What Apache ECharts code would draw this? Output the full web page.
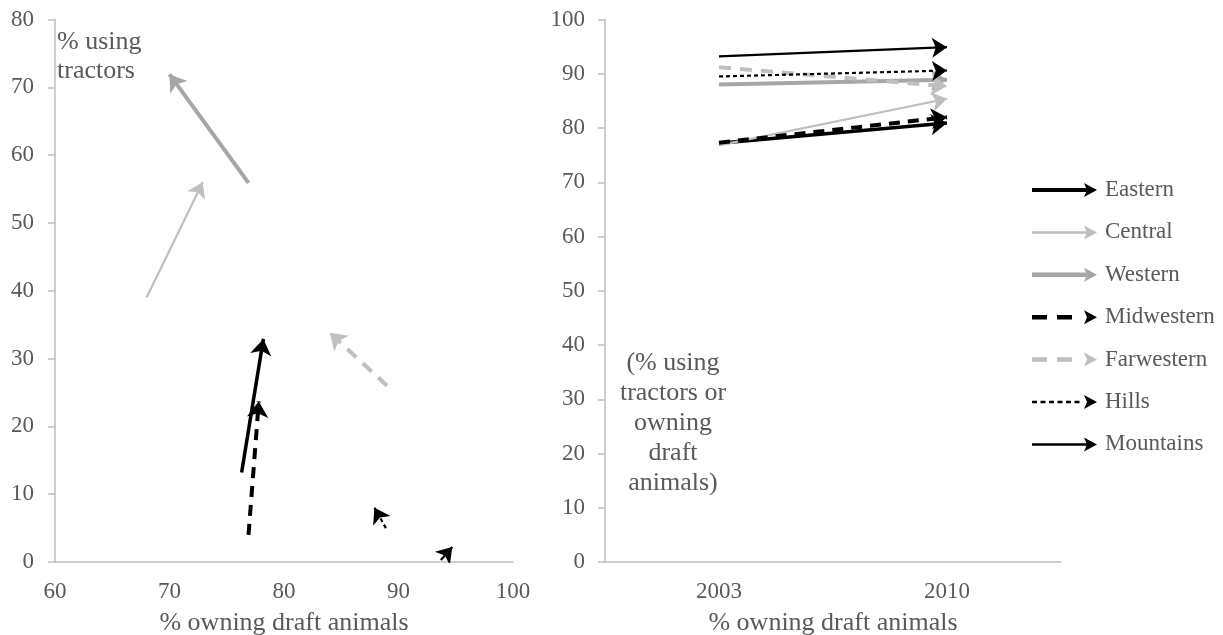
<!DOCTYPE html>
<html>
<head>
<meta charset="utf-8">
<script src="https://cdn.jsdelivr.net/npm/echarts@6/dist/echarts.min.js"></script>
<style>
html,body{margin:0;padding:0;background:#fff;}
#chart{width:1223px;height:635px;}
</style>
</head>
<body>
<div id="chart"></div>
<script>
// ---- data ----
var regions = ['Eastern', 'Central', 'Western', 'Midwestern', 'Farwestern', 'Hills', 'Mountains'];
// left panel: % owning draft animals (x) and % using tractors (y), 2003 -> 2010
var draftStart   = [76.3, 68.0, 76.9, 76.9, 89.0, 88.9, 93.7];
var draftEnd     = [78.2, 72.9, 70.0, 77.8, 84.0, 87.9, 94.7];
var tractorStart = [13.2, 39.0, 55.9, 4.0, 26.0, 5.0, 0.3];
var tractorEnd   = [32.9, 56.0, 71.9, 23.7, 33.8, 8.0, 2.2];
// right panel: % using tractors or owning draft animals
var years = ['2003', '2010'];
var either2003 = [77.2, 76.8, 88.0, 77.3, 91.2, 89.5, 93.2];
var either2010 = [80.9, 85.4, 88.9, 82.0, 87.7, 90.6, 94.9];
var leftXTicks = [60, 70, 80, 90, 100];
var leftYTicks = [0, 10, 20, 30, 40, 50, 60, 70, 80];
var rightYTicks = [0, 10, 20, 30, 40, 50, 60, 70, 80, 90, 100];

// ---- styles ----
var styles = [
  {color: '#000000', width: 3.5, type: 'solid',  size: [14, 16], icon: 'solid', iw: 4},
  {color: '#BFBFBF', width: 2.2, type: 'solid',  size: [13, 15], icon: 'solid', iw: 2.5},
  {color: '#A6A6A6', width: 4,   type: 'solid',  size: [14, 16], icon: 'solid', iw: 4.5},
  {color: '#000000', width: 4,   type: [11, 8],  size: [14, 16], icon: 'dash',  iw: 4.5},
  {color: '#BFBFBF', width: 4,   type: [12, 9],  size: [14, 16], icon: 'dash',  iw: 4.5},
  {color: '#000000', width: 2.2, type: [4, 3],   size: [13, 15], icon: 'dot',   iw: 2.5},
  {color: '#000000', width: 2.2, type: 'solid',  size: [13, 15], icon: 'solid', iw: 2.5}
];

var FONT = '"Liberation Serif", "Times New Roman", serif';
var TXT = '#595959';
var AX = '#BFBFBF';

function rect(x0, x1, h) {
  var y0 = 7 - h / 2, y1 = 7 + h / 2;
  return 'M' + x0 + ',' + y0 + 'L' + x1 + ',' + y0 + 'L' + x1 + ',' + y1 + 'L' + x0 + ',' + y1 + 'Z';
}
function iconPath(s) {
  var p = '';
  if (s.icon === 'solid') p += rect(0, 55, s.iw);
  else if (s.icon === 'dash') p += rect(0, 15, s.iw) + rect(25, 40, s.iw);
  else { for (var i = 0; i < 6; i++) p += rect(i * 8.5, i * 8.5 + 5, s.iw); }
  p += 'M52,0L65,7L52,14L55,7Z';
  return 'path://' + p;
}

var series = [];
regions.forEach(function (name, i) {
  var s = styles[i];
  series.push({
    type: 'lines', name: name, coordinateSystem: 'cartesian2d',
    xAxisIndex: 0, yAxisIndex: 0,
    symbol: ['none', 'arrow'], symbolSize: s.size,
    lineStyle: {color: s.color, width: s.width, type: s.type, opacity: 1, cap: 'butt'},
    data: [{coords: [[draftStart[i], tractorStart[i]], [draftEnd[i], tractorEnd[i]]]}],
    silent: true, animation: false
  });
  series.push({
    type: 'lines', name: name, coordinateSystem: 'cartesian2d',
    xAxisIndex: 1, yAxisIndex: 1,
    symbol: ['none', 'arrow'], symbolSize: s.size,
    lineStyle: {color: s.color, width: s.width, type: s.type, opacity: 1, cap: 'butt'},
    data: [{coords: [[0, either2003[i]], [1, either2010[i]]]}],
    silent: true, animation: false
  });
});

var axisLabel = {color: TXT, fontFamily: FONT, fontSize: 23};
var chart = echarts.init(document.getElementById('chart'), null, {renderer: 'canvas'});
chart.setOption({
  animation: false,
  backgroundColor: '#ffffff',
  textStyle: {fontFamily: FONT},
  grid: [
    {left: 55, right: 710, top: 19.5, bottom: 73, containLabel: false, outerBoundsMode: 'none'},
    {left: 605, right: 162, top: 19.5, bottom: 73, containLabel: false, outerBoundsMode: 'none'}
  ],
  xAxis: [
    {type: 'value', gridIndex: 0, min: leftXTicks[0], max: leftXTicks[leftXTicks.length - 1], interval: 10,
     name: '% owning draft animals', nameLocation: 'middle', nameGap: 48,
     nameTextStyle: {color: TXT, fontFamily: FONT, fontSize: 26},
     axisLine: {lineStyle: {color: AX, width: 1.5}}, axisTick: {show: false},
     axisLabel: Object.assign({margin: 18}, axisLabel), splitLine: {show: false}},
    {type: 'category', gridIndex: 1, data: years, boundaryGap: true,
     name: '% owning draft animals', nameLocation: 'middle', nameGap: 48,
     nameTextStyle: {color: TXT, fontFamily: FONT, fontSize: 26},
     axisLine: {lineStyle: {color: AX, width: 1.5}}, axisTick: {show: false},
     axisLabel: Object.assign({margin: 18}, axisLabel), splitLine: {show: false}}
  ],
  yAxis: [
    {type: 'value', gridIndex: 0, min: leftYTicks[0], max: leftYTicks[leftYTicks.length - 1], interval: 10,
     axisLine: {show: true, lineStyle: {color: AX, width: 1.5}},
     axisTick: {show: true, length: 7, lineStyle: {color: AX, width: 1.5}},
     axisLabel: Object.assign({margin: 21}, axisLabel), splitLine: {show: false}},
    {type: 'value', gridIndex: 1, min: rightYTicks[0], max: rightYTicks[rightYTicks.length - 1], interval: 10,
     axisLine: {show: true, lineStyle: {color: AX, width: 1.5}},
     axisTick: {show: true, length: 7, lineStyle: {color: AX, width: 1.5}},
     axisLabel: Object.assign({margin: 20}, axisLabel), splitLine: {show: false}}
  ],
  legend: {
    orient: 'vertical', left: 1027, top: 173,
    itemWidth: 65, itemHeight: 14, itemGap: 18.4,
    selectedMode: false,
    textStyle: {color: TXT, fontFamily: FONT, fontSize: 23, lineHeight: 24, padding: [0, 0, 0, 3]},
    data: regions.map(function (name, i) {
      return {name: name, icon: iconPath(styles[i]),
              itemStyle: {color: styles[i].color, borderWidth: 0, opacity: 1},
              lineStyle: {width: 0}};
    })
  },
  graphic: [
    {type: 'text', left: 57, top: 27.5, silent: true,
     style: {text: '% using\ntractors', fill: TXT, font: '26px ' + FONT, lineHeight: 29}},
    {type: 'text', x: 673, y: 348, silent: true,
     style: {text: '(% using\ntractors or\nowning\ndraft\nanimals)', fill: TXT, font: '26px ' + FONT,
             lineHeight: 30, align: 'center', verticalAlign: 'top'}}
  ],
  series: series
});
</script>
</body>
</html>
